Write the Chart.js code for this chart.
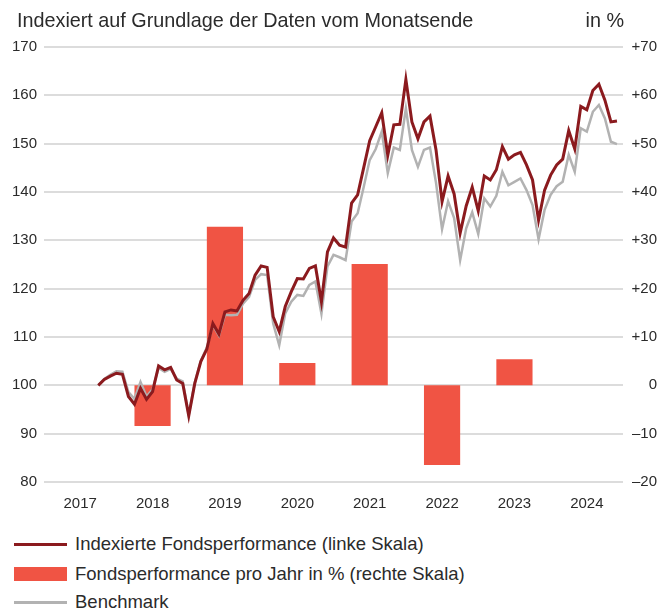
<!DOCTYPE html>
<html>
<head>
<meta charset="utf-8">
<script src="https://cdn.jsdelivr.net/npm/chart.js@4/dist/chart.umd.min.js"></script>
<style>
  html, body { margin: 0; padding: 0; background: #fff; }
  #wrap { position: relative; width: 661px; height: 612px; font-family: "Liberation Sans", Arial, sans-serif; color: #2b2b2b; }
  #c { position: absolute; left: 0; top: 0; }
  .t { position: absolute; font-size: 18.5px; line-height: 22px; white-space: nowrap; }
  .h { position: absolute; font-size: 19.8px; line-height: 24px; white-space: nowrap; }
  .sw { position: absolute; }
</style>
</head>
<body>
<div id="wrap">
  <canvas id="c" width="661" height="530"></canvas>
  <div class="h" style="left:17px; top:8px;">Indexiert auf Grundlage der Daten vom Monatsende</div>
  <div class="h" style="right:37px; top:8px;">in %</div>

  <div class="sw" style="left:14px; top:543px; width:53px; height:3px; background:#8b1a1e;"></div>
  <div class="t" style="left:75px; top:533px;">Indexierte Fondsperformance (linke Skala)</div>
  <div class="sw" style="left:14px; top:567px; width:53px; height:14px; background:#f05444;"></div>
  <div class="t" style="left:75px; top:563px;">Fondsperformance pro Jahr in % (rechte Skala)</div>
  <div class="sw" style="left:14px; top:601px; width:53px; height:3px; background:#b2b2b2;"></div>
  <div class="t" style="left:75px; top:591px;">Benchmark</div>
</div>
<script>
// ---- data ----
const startYear = 2017;
const startMonth = 9; // first month-end value: September 2017
const fundIndex = [
  100.0, 101.2, 101.9, 102.5,
  102.3, 97.7, 96.1, 99.4, 97.1, 98.7, 104.0, 103.2, 103.7, 101.1, 100.4, 93.7,
  100.4, 104.9, 107.5, 112.8, 110.6, 115.2, 115.6, 115.4, 117.6, 119.0, 122.8, 124.7,
  124.4, 114.2, 111.1, 116.3, 119.4, 122.1, 122.0, 124.2, 124.7, 117.3, 127.6, 130.5,
  129.0, 128.6, 137.7, 139.4, 145.0, 150.6, 153.5, 156.4, 147.6, 153.9, 154.0, 163.3,
  154.5, 151.0, 154.5, 155.7, 148.7, 138.0, 143.3, 139.6, 131.5, 137.1, 141.0, 136.1,
  143.3, 142.5, 144.6, 149.4, 146.8, 147.7, 148.2, 145.6, 142.5, 134.2, 140.4, 143.5,
  145.6, 146.8, 152.7, 148.9, 157.7, 157.0, 161.0, 162.3, 159.0, 154.5, 154.7
];
const benchmarkIndex = [
  100.0, 101.3, 102.2, 102.9,
  102.8, 98.6, 97.2, 100.7, 97.7, 99.2, 103.6, 102.8, 103.4, 101.4, 100.8, 93.9,
  100.6, 105.1, 107.8, 112.5, 110.3, 114.6, 114.5, 114.6, 116.9, 118.3, 121.8, 123.0,
  122.8, 112.8, 108.3, 114.9, 117.3, 118.7, 118.5, 120.8, 121.5, 114.8, 124.6, 127.0,
  126.5, 125.9, 133.9, 135.6, 141.0, 146.6, 148.9, 152.5, 143.9, 149.2, 148.7, 157.3,
  148.7, 145.2, 148.7, 149.2, 141.9, 132.3, 138.1, 134.6, 125.9, 132.5, 135.8, 131.3,
  138.7, 137.0, 139.2, 144.2, 141.4, 142.1, 142.8, 140.4, 137.3, 130.2, 136.3, 139.4,
  141.2, 142.1, 147.7, 144.2, 153.2, 152.5, 156.6, 158.0, 155.2, 150.4, 149.9
];
const barYears = [2018, 2019, 2020, 2021, 2022, 2023];
const barValues = [-8.4, 32.8, 4.6, 25.1, -16.5, 5.4];
const tickYears = ['2017', '2018', '2019', '2020', '2021', '2022', '2023', '2024'];
const leftTicks = [80, 170, 10];   // min, max, step
const rightTicks = [-20, 70, 10];  // min, max, step

// ---- build ----
function monthPos(i) {
  const m = startMonth + i; // months counted from Jan of startYear
  return startYear + m / 12; // month-end position
}
const fundData = fundIndex.map((v, i) => ({ x: monthPos(i), y: v }));
const benchData = benchmarkIndex.map((v, i) => ({ x: monthPos(i), y: v }));
const barData = barYears.map((yr, i) => ({ x: yr + 0.5, y: barValues[i] }));

const tickFont = { family: "'Liberation Sans', Arial, sans-serif", size: 15 };
const txt = '#2b2b2b';

new Chart(document.getElementById('c'), {
  data: {
    datasets: [
      {
        type: 'line', label: 'Indexierte Fondsperformance (linke Skala)', data: fundData,
        xAxisID: 'x', yAxisID: 'y', borderColor: '#8b1a1e', borderWidth: 3,
        pointRadius: 0, tension: 0, order: 1, borderJoinStyle: 'miter'
      },
      {
        type: 'line', label: 'Benchmark', data: benchData,
        xAxisID: 'x', yAxisID: 'y', borderColor: '#b2b2b2', borderWidth: 2.5,
        pointRadius: 0, tension: 0, order: 2, borderJoinStyle: 'miter'
      },
      {
        type: 'bar', label: 'Fondsperformance pro Jahr in % (rechte Skala)', data: barData,
        xAxisID: 'x', yAxisID: 'y2', backgroundColor: '#f05444',
        barPercentage: 0.5, categoryPercentage: 1.0, order: 3
      }
    ]
  },
  options: {
    responsive: false,
    animation: false,
    events: [],
    layout: { padding: { top: 47, left: 0, right: 4, bottom: 0 } },
    plugins: { legend: { display: false }, tooltip: { enabled: false }, title: { display: false } },
    scales: {
      x: {
        type: 'linear', position: 'bottom', min: startYear, max: startYear + tickYears.length,
        offset: false,
        grid: { display: false, drawTicks: false, offset: false }, border: { display: false },
        afterBuildTicks: (s) => { s.ticks = tickYears.map(t => ({ value: Number(t) + 0.5 })); },
        ticks: { font: tickFont, color: txt, padding: 13, autoSkip: false, maxRotation: 0,
          callback: (v, i) => tickYears[i] },
        afterFit: (s) => { s.height = 48; }
      },
      y: {
        type: 'linear', position: 'left', min: leftTicks[0], max: leftTicks[1],
        grid: { color: '#dcdcdc', lineWidth: 2, drawTicks: false }, border: { display: false },
        ticks: { stepSize: leftTicks[2], font: tickFont, color: txt, padding: 7 },
        afterFit: (s) => { s.width = 44; }
      },
      y2: {
        type: 'linear', position: 'right', min: rightTicks[0], max: rightTicks[1],
        grid: { display: false, drawTicks: false }, border: { display: false },
        ticks: { stepSize: rightTicks[2], font: tickFont, color: txt, padding: 7, crossAlign: 'far',
          callback: (v) => v > 0 ? '+' + v : (v < 0 ? '\u2013' + Math.abs(v) : '0') },
        afterFit: (s) => { s.width = 34; }
      }
    }
  }
});
</script>
</body>
</html>
